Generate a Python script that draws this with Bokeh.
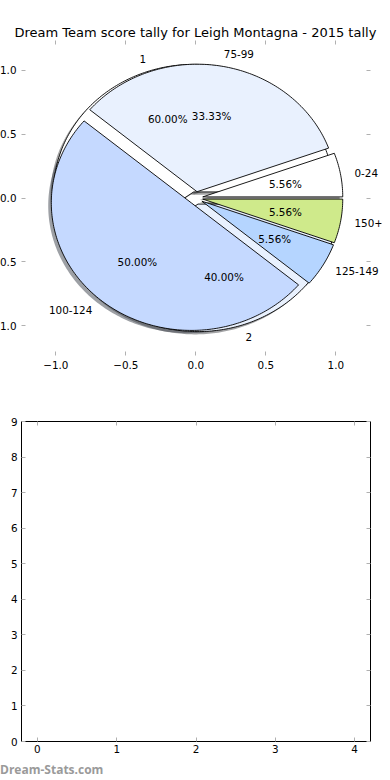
import numpy as np
from bokeh.plotting import figure
from bokeh.models import (ColumnDataSource, LabelSet, LinearAxis, FixedTicker,
                          Range1d, CustomJSTickFormatter, Div)
from bokeh.core.properties import value
from bokeh.layouts import column
from bokeh.embed import file_html
from bokeh.resources import INLINE

# ---------------- data ----------------
chart_title = "Dream Team score tally for Leigh Montagna - 2015 tally"
score_labels = ["0-24", "75-99", "100-124", "125-149", "150+"]
score_counts = [1, 6, 9, 1, 1]
score_colors = ["#ffffff", "#e9f1fe", "#c5d9ff", "#b5d5ff", "#cfea8b"]
half_labels = ["1", "2"]
half_counts = [3, 2]
half_colors = ["#ffffff", "#e9f1fe"]
pie_ticks = [-1.0, -0.5, 0.0, 0.5, 1.0]
empty_xticks = [0, 1, 2, 3, 4]
empty_yticks = [0, 1, 2, 3, 4, 5, 6, 7, 8, 9]
watermark = "Dream-Stats.com"

EXPLODE = 0.05
LABEL_DIST = 1.1
PCT_DIST = 0.6
SHADOW = 0.022
FONT = "DejaVu Sans"
TICK_COLOR = "#b0b0b0"
PIE_XMAX = 1.245


def pie_geometry(counts):
    fr = np.asarray(counts, dtype=float) / float(sum(counts))
    ends = np.cumsum(fr) * 2 * np.pi
    starts = np.concatenate([[0.0], ends[:-1]])
    out = []
    for s, e, f in zip(starts, ends, fr):
        m = (s + e) / 2
        cx, cy = EXPLODE * np.cos(m), EXPLODE * np.sin(m)
        n = max(int(np.degrees(e - s)) + 2, 4)
        t = np.linspace(s, e, n)
        xs = np.concatenate([[cx], cx + np.cos(t), [cx]])
        ys = np.concatenate([[cy], cy + np.sin(t), [cy]])
        out.append(dict(m=m, cx=cx, cy=cy, xs=list(xs), ys=list(ys), pct=f * 100))
    return out


def shade(c):
    c = c.lstrip("#")
    r, g, b = (int(c[i:i + 2], 16) for i in (0, 2, 4))
    return "#%02x%02x%02x" % (int(r * 0.3), int(g * 0.3), int(b * 0.3))


def style_axis(ax, ticks, labels=True, minus=False):
    ax.ticker = FixedTicker(ticks=ticks)
    ax.axis_line_color = None
    ax.major_tick_in = 4
    ax.major_tick_out = 0
    ax.major_tick_line_color = TICK_COLOR
    ax.major_tick_line_width = 1
    ax.minor_tick_line_color = None
    ax.major_label_text_font = FONT
    ax.major_label_text_font_size = "10.4px"
    ax.major_label_text_color = "#000000"
    if not labels:
        ax.formatter = CustomJSTickFormatter(code="return ''")
        ax.major_label_standoff = 0
    elif minus:
        ax.formatter = CustomJSTickFormatter(
            code="return (tick < 0 ? '\u2212' : '') + Math.abs(tick).toFixed(1);")


# ---------------- top: pie chart ----------------
p = figure(x_range=Range1d(-1.245, 1.326), y_range=Range1d(-1.235, 1.235),
           width=403, height=403,
           min_border_left=34, min_border_right=9, min_border_top=32, min_border_bottom=56,
           output_backend="svg", toolbar_location=None)
p.title.text = chart_title
p.title.align = "left"
p.title.offset = -7
p.title.text_font = FONT
p.title.text_font_size = "13px"
p.title.text_font_style = "normal"
p.title.text_color = "#000000"
p.title.standoff = 2
p.grid.visible = False
p.outline_line_color = None
p.background_fill_color = "white"
p.border_fill_color = "white"

style_axis(p.xaxis[0], pie_ticks, minus=True)
p.xaxis[0].major_label_standoff = 5
style_axis(p.yaxis[0], pie_ticks, minus=True)
p.yaxis[0].major_label_standoff = 5
top_ax = LinearAxis()
style_axis(top_ax, pie_ticks, labels=False)
p.add_layout(top_ax, "above")
# right-hand ticks: an axis pinned at the right edge of the plotting box
right_ax = LinearAxis(fixed_location=PIE_XMAX)
style_axis(right_ax, pie_ticks, labels=False)
right_ax.major_tick_in = 0
right_ax.major_tick_out = 4
p.add_layout(right_ax, "left")

g_scores = pie_geometry(score_counts)
g_half = pie_geometry(half_counts)

# shadows (drawn underneath everything)
sh = dict(xs=[], ys=[], c=[])
for geo, cols in ((g_half, half_colors), (g_scores, score_colors)):
    for g, c in zip(geo, cols):
        sh["xs"].append([x - SHADOW for x in g["xs"]])
        sh["ys"].append([y - SHADOW for y in g["ys"]])
        sh["c"].append(shade(c))
p.patches("xs", "ys", source=ColumnDataSource(sh), fill_color="c", fill_alpha=0.5,
          line_color=None)

half_src = ColumnDataSource(dict(xs=[g["xs"] for g in g_half], ys=[g["ys"] for g in g_half],
                                 c=half_colors))
p.patches("xs", "ys", source=half_src, fill_color="c", line_color="black", line_width=0.9)
score_src = ColumnDataSource(dict(xs=[g["xs"] for g in g_scores], ys=[g["ys"] for g in g_scores],
                                  c=score_colors))
p.patches("xs", "ys", source=score_src, fill_color="c", line_color="black", line_width=0.9)

# text labels
lab_l = dict(x=[], y=[], t=[])
lab_r = dict(x=[], y=[], t=[])
pct = dict(x=[], y=[], t=[])
for geo, names in ((g_half, half_labels), (g_scores, score_labels)):
    for g, name in zip(geo, names):
        lx = g["cx"] + LABEL_DIST * np.cos(g["m"])
        ly = g["cy"] + LABEL_DIST * np.sin(g["m"])
        d = lab_l if lx > 0 else lab_r
        d["x"].append(lx); d["y"].append(ly); d["t"].append(name)
        pct["x"].append(g["cx"] + PCT_DIST * np.cos(g["m"]))
        pct["y"].append(g["cy"] + PCT_DIST * np.sin(g["m"]))
        pct["t"].append("%.2f%%" % g["pct"])

for d, align in ((lab_l, "left"), (lab_r, "right"), (pct, "center")):
    p.add_layout(LabelSet(x="x", y="y", text="t", source=ColumnDataSource(d),
                          text_align=align, text_baseline="middle",
                          text_font=value(FONT), text_font_size="10.4px",
                          text_color="#000000"))

# ---------------- bottom: empty axes ----------------
q = figure(x_range=Range1d(-0.2, 4.2), y_range=Range1d(0, 9),
           width=392, height=350,
           min_border_left=34, min_border_right=9, min_border_top=10, min_border_bottom=20,
           output_backend="svg", toolbar_location=None)
q.grid.visible = False
q.outline_line_color = "black"
q.outline_line_width = 1
q.background_fill_color = "white"
q.border_fill_color = "white"
style_axis(q.xaxis[0], empty_xticks)
q.xaxis[0].major_label_standoff = 3
style_axis(q.yaxis[0], empty_yticks)
q.yaxis[0].major_label_standoff = 4
qa = LinearAxis()
style_axis(qa, empty_xticks, labels=False)
q.add_layout(qa, "above")
qr = LinearAxis()
style_axis(qr, empty_yticks, labels=False)
q.add_layout(qr, "right")

wm = Div(text=('<span style="font-family:\'Open Sans\',sans-serif;font-weight:bold;'
               'font-size:12px;line-height:17px;color:#9a9a9a;white-space:nowrap;">'
               + watermark + '</span>'),
         width=200, height=17, margin=(0, 0, 0, 13))

layout = column(p, q, wm, spacing=0, width=403, height=770, sizing_mode="fixed",
                margin=(8, 0, 0, -13))
open("out.html", "w").write(file_html(layout, INLINE))
